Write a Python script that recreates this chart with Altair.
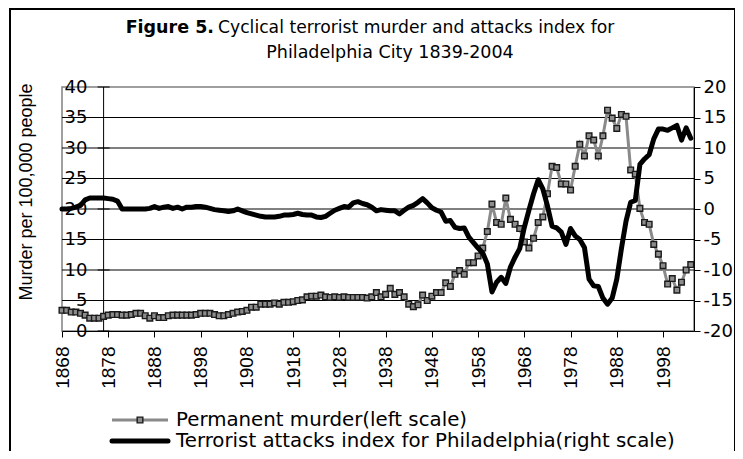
import altair as alt
import pandas as pd

# ---------------- data ----------------
first_year = 1868
# Permanent murder, per 100,000 people (left scale), one value per year 1868-2004
murder = [
    3.4, 3.4,                                              # 1868-1869
    3.1, 3.1, 2.9, 2.6, 2.1, 2.1, 2.1, 2.4, 2.6, 2.7,      # 1870s
    2.7, 2.6, 2.6, 2.7, 2.9, 2.9, 2.5, 2.1, 2.5, 2.2,      # 1880s
    2.2, 2.5, 2.6, 2.6, 2.6, 2.6, 2.6, 2.7, 2.9, 2.9,      # 1890s
    2.9, 2.7, 2.5, 2.5, 2.7, 2.9, 3.1, 3.2, 3.4, 3.9,      # 1900s
    3.9, 4.4, 4.4, 4.4, 4.6, 4.4, 4.7, 4.7, 4.8, 5.0,      # 1910s
    5.1, 5.6, 5.7, 5.7, 5.9, 5.6, 5.5, 5.6, 5.5, 5.6,      # 1920s
    5.5, 5.5, 5.5, 5.5, 5.4, 5.6, 6.3, 5.6, 6.0, 7.0,      # 1930s
    6.0, 6.3, 5.6, 4.4, 4.0, 4.3, 5.9, 5.0, 5.7, 6.3,      # 1940s
    6.3, 7.9, 7.3, 9.3, 9.9, 9.3, 11.2, 11.2, 12.3, 13.6,  # 1950s
    16.3, 20.8, 17.8, 17.5, 21.8, 18.3, 17.5, 16.8, 14.6, 13.6,  # 1960s
    15.2, 17.8, 18.7, 22.5, 27.0, 26.8, 24.1, 24.1, 23.1, 27.0,  # 1970s
    30.6, 28.7, 32.0, 31.3, 28.7, 32.0, 36.2, 34.9, 33.2, 35.5,  # 1980s
    35.2, 26.4, 25.7, 20.1, 17.8, 17.5, 14.2, 12.6, 10.7, 7.7,   # 1990s
    8.6, 6.7, 8.0, 10.0, 10.9,                                   # 2000-2004
]
# Terrorist attacks index for Philadelphia (right scale), 1868-2004
terror = [
    0.0, 0.0,                                                    # 1868-1869
    0.1, 0.3, 0.6, 1.5, 1.8, 1.8, 1.8, 1.8, 1.7, 1.6,            # 1870s
    1.3, 0.0, 0.0, 0.0, 0.0, 0.0, 0.0, 0.1, 0.4, 0.1,            # 1880s
    0.3, 0.4, 0.1, 0.3, 0.0, 0.3, 0.3, 0.4, 0.4, 0.3,            # 1890s
    0.1, -0.1, -0.2, -0.3, -0.4, -0.3, 0.0, -0.3, -0.6, -0.8,    # 1900s
    -1.0, -1.2, -1.3, -1.3, -1.3, -1.2, -1.0, -1.0, -0.9, -0.7,  # 1910s
    -0.9, -1.0, -1.0, -1.3, -1.4, -1.2, -0.7, -0.2, 0.1, 0.4,    # 1920s
    0.3, 1.0, 1.2, 0.9, 0.7, 0.3, -0.3, -0.1, -0.2, -0.3,        # 1930s
    -0.3, -0.8, -0.2, 0.3, 0.6, 1.1, 1.7, 1.0, 0.2, -0.2,        # 1940s
    -0.5, -2.0, -1.9, -3.0, -3.2, -3.1, -4.6, -5.5, -6.4, -7.2,  # 1950s
    -9.0, -13.6, -12.0, -11.2, -12.2, -9.5, -7.9, -6.5, -3.0, -0.2,  # 1960s
    2.5, 4.8, 3.3, 0.5, -2.8, -3.1, -3.8, -5.8, -3.2, -4.4,      # 1970s
    -5.0, -6.3, -11.5, -12.6, -12.7, -14.6, -15.6, -14.6, -11.5, -6.5,  # 1980s
    -2.0, 1.1, 1.4, 7.3, 8.2, 8.9, 11.5, 13.1, 13.1, 12.9,       # 1990s
    13.3, 13.7, 11.3, 13.3, 11.6,                                # 2000-2004
]
years = list(range(first_year, first_year + len(murder)))

x_tick_years = list(range(1868, 1999, 10))
left_ticks = [0, 5, 10, 15, 20, 25, 30, 35, 40]
right_ticks = [-20, -15, -10, -5, 0, 5, 10, 15, 20]
grid_values = [5, 10, 15, 20, 25, 30, 35]
axis_cross_year = [1877]      # the left value axis crosses the year axis here

title_bold = "Figure 5."
title_rest = "Cyclical terrorist murder and attacks index for"
title_line2 = "Philadelphia City 1839-2004"
y_title = "Murder per 100,000 people"
legend_labels = ["Permanent murder(left scale)",
                 "Terrorist attacks index for Philadelphia(right scale)"]

# ---------------- chart ----------------
W, H = 632, 244
OX, OY = 62, 87          # page position of the plot area's top-left corner
HFONT = "DejaVu Sans"
VFONT = "Liberation Sans"

df = pd.DataFrame({"year": years, "murder": murder[:len(years)],
                   "terror": terror[:len(years)]})

xscale = alt.Scale(domain=[1868, 2004.7], nice=False, zero=False)
yl = alt.Scale(domain=[0, 40], nice=False, zero=False)
yr = alt.Scale(domain=[-20, 20], nice=False, zero=False)

x_axis = alt.Axis(values=x_tick_years, format="d", labelAngle=270,
                  labelAlign="right", labelBaseline="middle",
                  labelFont=VFONT, labelFontSize=19, labelColor="black",
                  labelPadding=9, labelFlush=False, labelOverlap=False,
                  tickSize=6, tickColor="black", domainColor="black",
                  grid=False, title=None)
left_axis = alt.Axis(values=left_ticks, orient="left", offset=-41, grid=False,
                     domain=False, ticks=False,
                     labelFont=HFONT, labelFontSize=18, labelColor="black",
                     labelPadding=16, title=None)
right_axis = alt.Axis(values=right_ticks, orient="right", grid=False,
                      tickSize=6, tickColor="black", domainColor="black",
                      labelFont=HFONT, labelFontSize=18, labelColor="black",
                      labelPadding=3, labelAlign="left",
                      labelExpr="(datum.value < 0 ? '-' : '\u2002') + abs(datum.value)",
                      title=None)

X = alt.X("year:Q", scale=xscale, axis=x_axis)

grid = alt.Chart(pd.DataFrame({"g": grid_values})).mark_rule(
    color="black", strokeWidth=1).encode(y=alt.Y("g:Q", scale=yl, axis=None))

# left value axis line and its cross ticks, placed through the scales
vaxis = alt.Chart(pd.DataFrame({"year": axis_cross_year})).mark_rule(
    color="black", strokeWidth=1).encode(x=X)
vticks = alt.Chart(pd.DataFrame({"year": axis_cross_year * len(left_ticks),
                                 "v": left_ticks})).mark_tick(
    orient="horizontal", size=12, thickness=1, color="black", opacity=1).encode(
    x=X, y=alt.Y("v:Q", scale=yl, axis=None))

m_line = alt.Chart(df).mark_line(color="#8a8a8a", strokeWidth=3).encode(
    x=X, y=alt.Y("murder:Q", scale=yl, axis=left_axis))
m_pts = alt.Chart(df).mark_point(shape="square", filled=True, size=32,
                                 fill="#8c8c8c", stroke="#1a1a1a",
                                 strokeWidth=1.4, opacity=1).encode(
    x=X, y=alt.Y("murder:Q", scale=yl, axis=None))

t_line = alt.Chart(df).mark_line(color="black", strokeWidth=5,
                                 strokeJoin="round", strokeCap="round").encode(
    x=X, y=alt.Y("terror:Q", scale=yr, axis=right_axis))


def label(text, px, py, **kw):
    return alt.Chart(pd.DataFrame({"t": [text]})).mark_text(**kw).encode(
        text="t:N", x=alt.value(px - OX), y=alt.value(py - OY))


deco = [
    label(title_bold, 214, 33, font=HFONT, fontSize=17.5, fontWeight="bold",
          align="right", baseline="alphabetic", color="black"),
    label(title_rest, 218, 33, font=HFONT, fontSize=17.2,
          align="left", baseline="alphabetic", color="black"),
    label(title_line2, 390, 58, font=HFONT, fontSize=17.5,
          align="center", baseline="alphabetic", color="black"),
    label(y_title, 27, 192, font=VFONT, fontSize=18, angle=270,
          align="center", baseline="middle", color="black"),
    label(legend_labels[0], 176, 426, font=HFONT, fontSize=19.8,
          align="left", baseline="alphabetic", color="black"),
    label(legend_labels[1], 176, 447, font=HFONT, fontSize=19.8,
          align="left", baseline="alphabetic", color="black"),
]

one = pd.DataFrame({"k": [0]})
leg1_line = alt.Chart(one).mark_rule(color="#8a8a8a", strokeWidth=3).encode(
    x=alt.value(112 - OX), x2=alt.value(168 - OX), y=alt.value(420 - OY))
leg1_pt = alt.Chart(one).mark_point(shape="square", filled=True, size=32,
                                    fill="#8c8c8c", stroke="#1a1a1a",
                                    strokeWidth=1.4, opacity=1).encode(
    x=alt.value(140 - OX), y=alt.value(420 - OY))
leg2_line = alt.Chart(one).mark_rule(color="black", strokeWidth=5,
                                     strokeCap="round").encode(
    x=alt.value(112 - OX), x2=alt.value(168 - OX), y=alt.value(441 - OY))
frame = alt.Chart(one).mark_rect(fillOpacity=0, stroke="black",
                                 strokeWidth=2).encode(
    x=alt.value(10 - OX), x2=alt.value(735 - OX),
    y=alt.value(9 - OY), y2=alt.value(480 - OY))

chart = alt.layer(grid, vaxis, vticks, m_line, m_pts, t_line, leg1_line,
                  leg1_pt, leg2_line, frame, *deco
                  ).resolve_scale(y="independent").properties(
    width=W, height=H,
    padding={"left": OX - 8, "top": OY - 8, "right": 727 - (OX - 8) - W,
             "bottom": 443 - (OY - 8) - H},
    autosize=alt.AutoSizeParams(type="none"),
    background="white",
).configure_view(stroke="#808080", strokeWidth=1.5)

chart.save("out.html", embed_options={"renderer": "svg", "actions": False})
